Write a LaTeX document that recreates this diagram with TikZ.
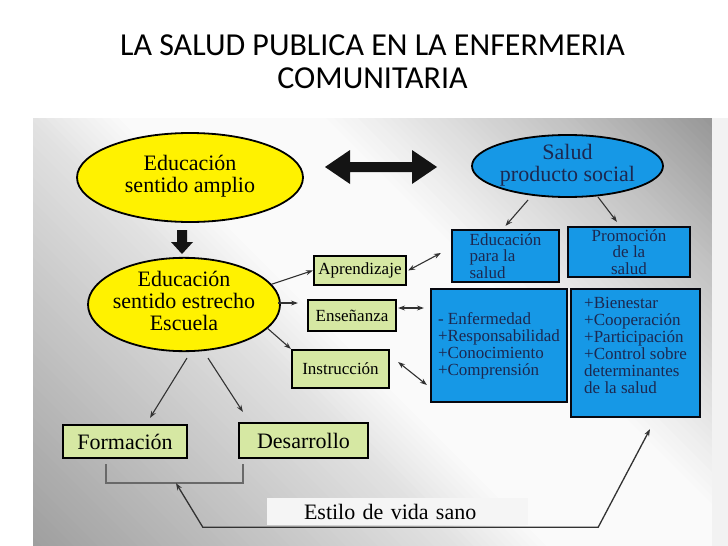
\documentclass[tikz,border=0pt]{standalone}
\usepackage{fontspec}
\setmainfont{Liberation Serif}
\newfontfamily\titlefont{Carlito}
\usetikzlibrary{shapes.geometric,arrows.meta,calc}
\definecolor{ylw}{RGB}{255,242,0}
\definecolor{sky}{RGB}{22,152,230}
\definecolor{lgreen}{RGB}{214,232,163}
\definecolor{navy}{RGB}{28,40,80}
\definecolor{conncol}{RGB}{50,50,50}
\definecolor{bracketcol}{RGB}{105,105,105}
\newcommand\elltext[1]{\makebox[0pt]{\begin{tabular}{@{}c@{}}#1\end{tabular}}}
\begin{document}
\begin{tikzpicture}[x=1pt,y=-1pt,
  ell/.style={ellipse, draw=black, line width=1.8pt, inner sep=0pt},
  gbox/.style={rectangle, draw=black, line width=2.2pt, fill=lgreen, inner sep=0pt, align=center},
  bbox/.style={rectangle, draw=black!80!navy, line width=2.2pt, fill=sky, inner sep=0pt, text=navy},
  conn/.style={draw=conncol, line width=1.1pt, -{Stealth[length=7pt,width=5pt]}},
  dconn/.style={draw=conncol, line width=1.1pt, {Stealth[length=7pt,width=5pt]}-{Stealth[length=7pt,width=5pt]}},
  bracket/.style={draw=bracketcol, line width=1.6pt},
  blockarrow/.style={fill=black!92, draw=none}]
\useasboundingbox (0,0) rectangle (728,546);
\fill[white] (0,0) rectangle (728,546);
% panel background: diagonal bands
\begin{scope}
\clip (33,118) rectangle (712,546);
\foreach \s in {-520,-512,...,600}{
  \pgfmathsetmacro\lvl{\s<-100 ? 12+(-100-\s)/420*26 : (\s<0 ? 2+(-\s)/100*10 : (\s<200 ? 2 : (\s<450 ? 2+(\s-200)/250*23 : 25+(\s-450)/150*17)))}
  \fill[black!\lvl] (\s+118,118) -- (\s+546,546) -- (\s+555,546) -- (\s+127,118) -- cycle;
}
\end{scope}
\fill[black!5] (712,118) rectangle (728,546);

% title
\node[font=\titlefont\fontsize{32}{33}\selectfont, align=center, inner sep=0pt] (title) at (372.5,61.5) {LA SALUD PUBLICA EN LA ENFERMERIA\\COMUNITARIA};

% ellipses
\node[ell, fill=ylw, minimum width=226pt, minimum height=89pt, font=\fontsize{22}{22}\selectfont] (e1) at (190,177.5) {\elltext{Educación\\sentido amplio}};
\node[ell, fill=sky, text=navy, minimum width=191pt, minimum height=62pt, font=\fontsize{22}{21}\selectfont] (e2) at (567.5,166) {\elltext{Salud\\producto social}};
\node[ell, fill=ylw, minimum width=192pt, minimum height=89pt, font=\fontsize{22}{22}\selectfont] (e3) at (184,304.5) {\elltext{Educación\\sentido estrecho\\Escuela}};

% block arrows
\fill[blockarrow] (325,167) -- (350,150) -- (350,162) -- (412,162) -- (412,150) -- (437,167) -- (412,184) -- (412,172) -- (350,172) -- (350,184) -- cycle;
\fill[blockarrow] (177,230) -- (187,230) -- (187,242) -- (193,242) -- (182,254) -- (171,242) -- (177,242) -- cycle;

% green boxes
\node[gbox, minimum width=92pt, minimum height=29pt, font=\fontsize{17}{17}\selectfont] (apr) at (360,270.5) {Aprendizaje};
\node[gbox, minimum width=88pt, minimum height=31pt, font=\fontsize{17}{17}\selectfont] (ens) at (352,315.5) {Enseñanza};
\node[gbox, minimum width=97pt, minimum height=38pt, font=\fontsize{17}{17}\selectfont] (ins) at (340.5,369) {Instrucción};
\node[gbox, minimum width=124pt, minimum height=33pt, font=\fontsize{22}{22}\selectfont] (for) at (125,441.5) {Formación};
\node[gbox, minimum width=129pt, minimum height=35pt, font=\fontsize{22}{22}\selectfont] (des) at (303.5,440.5) {Desarrollo};

% blue boxes
\node[bbox, align=left, minimum width=107pt, minimum height=52pt, font=\fontsize{17}{16.5}\selectfont] (epl) at (505.5,256) {Educación\\para la\\salud};
\node[bbox, align=center, minimum width=122pt, minimum height=50pt, font=\fontsize{17}{16.5}\selectfont] (pro) at (629,252) {Promoción\\de la\\salud};
\node[bbox, align=left, minimum width=136pt, minimum height=113pt, font=\fontsize{17}{17}\selectfont] (enf) at (499,345.5) {- Enfermedad\\+Responsabilidad\\+Conocimiento\\+Comprensión};
\node[bbox, minimum width=129pt, minimum height=128pt, font=\fontsize{17}{17}\selectfont] (bie) at (635.5,353) {\raisebox{5pt}[\height][\depth]{\begin{tabular}{@{}l@{}}+Bienestar\\+Cooperación\\+Participación\\+Control sobre\\determinantes\\de la salud\end{tabular}}};

% label box
\node[fill=black!4, minimum height=27pt, text width=187pt, inner xsep=37pt, inner ysep=0pt, align=left, font=\fontsize{22}{22}\selectfont] (est) at (397.5,511.5) {Estilo de vida sano};

% connectors
\draw[conn] ($(e2.center)+(-39.5,34)$) -- ($(epl.north)+(0,-3)$);
\draw[conn] ($(e2.center)+(30.5,31)$) -- ($(pro.north)+(-12,-4)$);
\draw[conn] (e3.13) -- (apr.west);
\draw[conn] ($(e3.east)+(-3,-1.5)$) -- ($(ens.west)+(-9,-12.5)$);
\draw[conn] (e3.-16) -- (ins.north west);
\draw[conn] ($(e3.south)+(3,6)$) -- ($(for.north)+(25,-6)$);
\draw[conn] ($(e3.south)+(24,6)$) -- ($(des.north west)+(5,-10)$);

\draw[dconn] ($(apr.east)+(1,0)$) -- ($(epl.west)+(-10,-3)$);
\coordinate (ensR) at ($(ens.east)+(1,-7.5)$);
\draw[dconn] (ensR) -- ($(enf.west |- ensR)+(-6,0)$);
\draw[dconn] ($(ins.east)+(8,-7)$) -- ($(enf.west)+(-3,39.5)$);

% bottom bracket and loop
\draw[bracket] ($(for.south)+(-19,5)$) -- ($(for.south)+(-19,24)$) -| ($(des.south west)+(5,5)$);
\coordinate (bk) at ($(for.south)+(51,24)$);
\coordinate (c1) at ($(est.south west)+(-64,2)$);
\coordinate (c2) at ($(est.south east)+(70,2)$);
\draw[dconn, line width=1.3pt] (bk) -- (c1) -- (c2) -- ($(bie.south)+(14.5,11)$);
\end{tikzpicture}
\end{document}
